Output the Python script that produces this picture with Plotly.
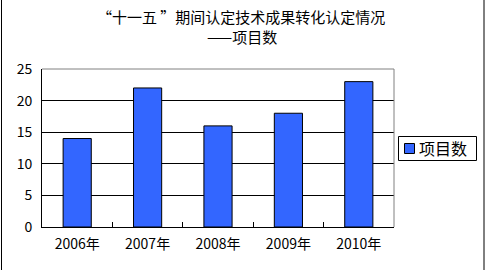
import plotly.graph_objects as go

categories = ["2006年", "2007年", "2008年", "2009年", "2010年"]
values = [14, 22, 16, 18, 23]
series_name = "项目数"
title_lines = ["“十一五 ”期间认定技术成果转化认定情况", "——项目数"]

FONT = "Noto Sans CJK SC"
BAR_COLOR = "#3366FF"
L, R, T, B = 42, 91, 69, 43
W, H = 485, 270
pw, ph = W - L - R, H - T - B

fig = go.Figure()
fig.add_trace(go.Bar(
    x=categories, y=values, name=series_name,
    marker=dict(color=BAR_COLOR, line=dict(color="black", width=1)),
    showlegend=False,
))

def px2paperx(px):
    return (px - L) / pw

def py2papery(py):
    return (H - B - py) / ph

fig.update_layout(
    width=W, height=H,
    margin=dict(l=L, r=R, t=T, b=B),
    paper_bgcolor="white", plot_bgcolor="white",
    font=dict(family=FONT, size=14, color="black"),
    bargap=0.6,
    showlegend=False,
    xaxis=dict(
        showline=True, linecolor="black", linewidth=1,
        ticks="inside", ticklen=5, tickcolor="black", tickson="boundaries",
        showgrid=False, tickfont=dict(family=FONT, size=14),
        ticklabelstandoff=4,
    ),
    yaxis=dict(
        range=[0, 25], dtick=5, showline=True, linecolor="black", linewidth=1,
        showgrid=True, gridcolor="black", gridwidth=1,
        zeroline=False, ticks="", tickfont=dict(family=FONT, size=14),
        ticklabelstandoff=6,
    ),
    annotations=[
        dict(text=title_lines[0], xref="paper", yref="paper",
             x=px2paperx(241), y=py2papery(16), xanchor="center", yanchor="middle",
             showarrow=False, font=dict(family=FONT, size=15, color="black")),
        dict(text=title_lines[1], xref="paper", yref="paper",
             x=px2paperx(242), y=py2papery(36), xanchor="center", yanchor="middle",
             showarrow=False, font=dict(family=FONT, size=15, color="black")),
        # legend label
        dict(text=series_name, xref="paper", yref="paper",
             x=px2paperx(417), y=py2papery(148), xanchor="left", yanchor="middle",
             showarrow=False, font=dict(family=FONT, size=16, color="black")),
    ],
    shapes=[
        dict(type="line", xref="paper", yref="paper", x0=0, x1=1, y0=1, y1=1,
             line=dict(color="#808080", width=1), layer="above"),
        dict(type="line", xref="paper", yref="paper", x0=1, x1=1, y0=0, y1=1,
             line=dict(color="#808080", width=1), layer="above"),
        dict(type="line", xref="paper", yref="paper",
             x0=px2paperx(1.5), x1=px2paperx(1.5), y0=py2papery(0), y1=py2papery(270),
             line=dict(color="black", width=1)),
        dict(type="line", xref="paper", yref="paper",
             x0=px2paperx(484), x1=px2paperx(484), y0=py2papery(0), y1=py2papery(270),
             line=dict(color="black", width=1)),
        # legend box
        dict(type="rect", xref="paper", yref="paper",
             x0=px2paperx(398.5), x1=px2paperx(476.5), y0=py2papery(136.5), y1=py2papery(160.5),
             line=dict(color="black", width=1), fillcolor="white"),
        # legend swatch
        dict(type="rect", xref="paper", yref="paper",
             x0=px2paperx(404.5), x1=px2paperx(414.5), y0=py2papery(143.5), y1=py2papery(153.5),
             line=dict(color="black", width=1), fillcolor=BAR_COLOR),
    ],
)

fig.write_html("out.html")
